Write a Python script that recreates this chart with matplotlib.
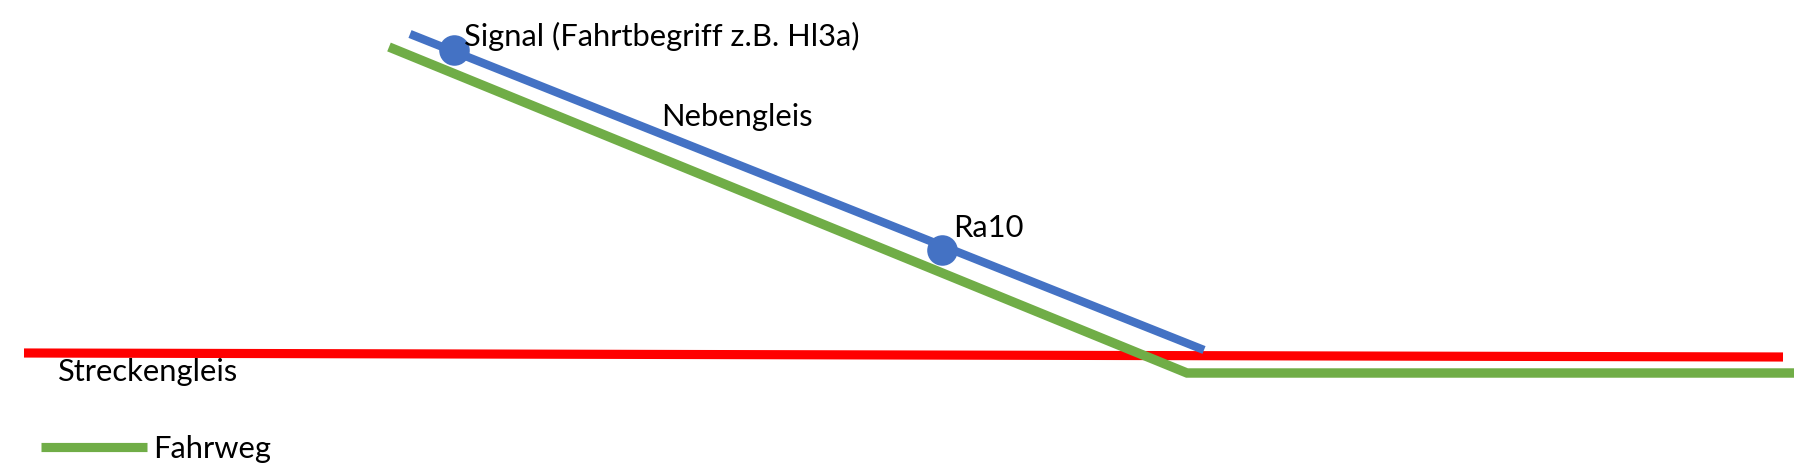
import matplotlib.pyplot as plt

plt.rcParams['font.family'] = ['Lato', 'DejaVu Sans']

# track geometry in image pixels (x, y from top)
haupt_x = [24, 1783]
haupt_y = [353, 357]
neben_x = [410, 1204]
neben_y = [34, 350]
fahrweg_x = [389, 1187, 1794]
fahrweg_y = [47, 373, 373]
legend_x = [41, 147]
legend_y = [446.5, 446.5]

signal_x = [454, 942]
signal_y = [50, 250]

labels = ['Signal (Fahrtbegriff z.B. Hl3a)', 'Nebengleis', 'Ra10', 'Streckengleis', 'Fahrweg']
label_x = [464, 661, 953, 58, 153]
label_y = [46, 126, 237, 381, 458]

blue = '#4472C4'
green = '#70AD47'
red = '#FF0000'

fig = plt.figure(figsize=(17.94, 4.67), dpi=100)
ax = fig.add_axes([0, 0, 1, 1])
ax.set_xlim(0, 1794)
ax.set_ylim(467, 0)
ax.axis('off')

ax.plot(haupt_x, haupt_y, color=red, lw=6.6, solid_capstyle='butt')
ax.plot(fahrweg_x, fahrweg_y, color=green, lw=6.8, solid_capstyle='butt', solid_joinstyle='miter')
ax.plot(neben_x, neben_y, color=blue, lw=6.0, solid_capstyle='butt')
ax.plot(legend_x, legend_y, color=green, lw=6.6, solid_capstyle='butt')
ax.plot(signal_x, signal_y, 'o', color=blue, ms=22, mec='none')

for t, x, y in zip(labels, label_x, label_y):
    ax.text(x, y, t, fontsize=22.2, ha='left', va='baseline', color='black')

fig.savefig('out.png', dpi=100)
